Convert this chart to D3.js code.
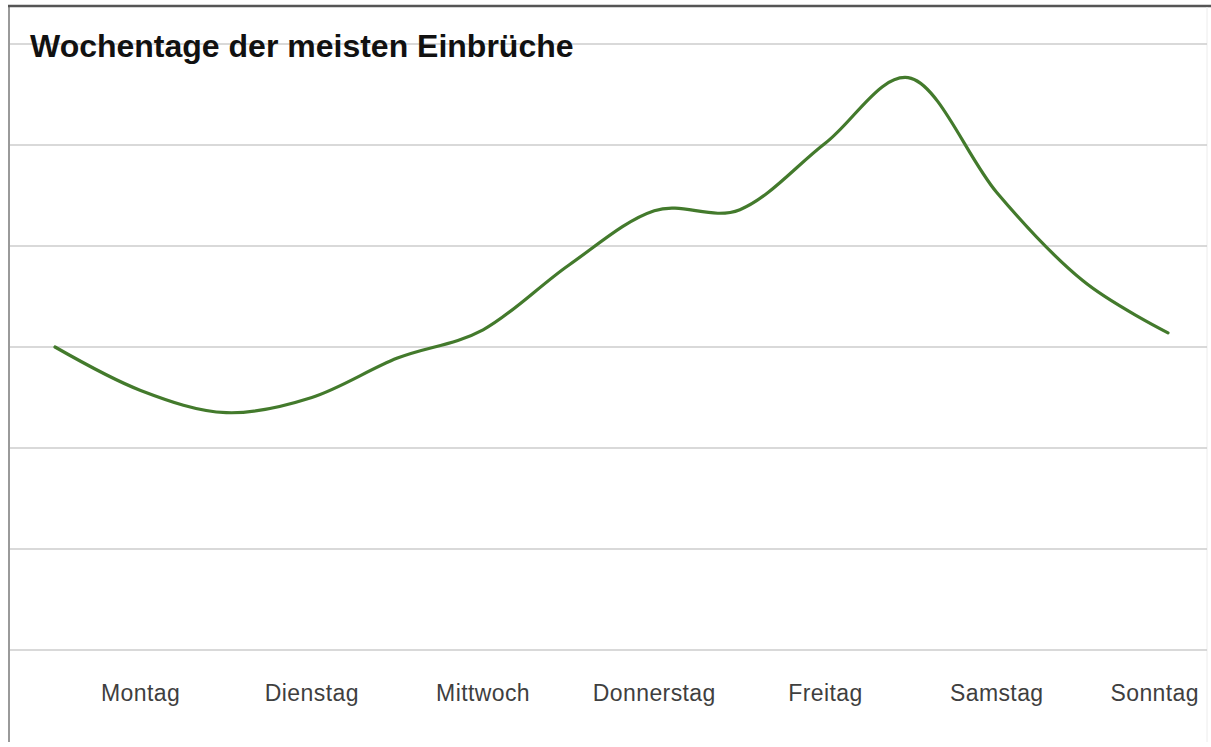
<!DOCTYPE html>
<html>
<head>
<meta charset="utf-8">
<script src="https://cdn.jsdelivr.net/npm/d3@7"></script>
<style>
  body { margin: 0; background: #fff; }
  svg { display: block; }
</style>
</head>
<body>
<svg></svg>
<script>
const size = { w: 1211, h: 747 };
const svg = d3.select("svg").attr("width", size.w).attr("height", size.h);

// weekdays (labels sit on every second point)
const days = ["Montag", "Dienstag", "Mittwoch", "Donnerstag", "Freitag", "Samstag", "Sonntag"];
// arbitrary units (one grid step = 1)
const values = [3.00, 2.57, 2.35, 2.50, 2.89, 3.17, 3.81, 4.35, 4.36, 5.02, 5.66, 4.53, 3.66, 3.14];
const gridTicks = [0, 1, 2, 3, 4, 5, 6];
const title = "Wochentage der meisten Einbrüche";

const x = d3.scaleLinear().domain([0, values.length - 1]).range([55, 1168]);
const y = d3.scaleLinear().domain([0, 6]).range([650, 44]);

// frame
svg.append("line")
  .attr("x1", 9).attr("x2", 9).attr("y1", 5).attr("y2", 742)
  .attr("stroke", "#9a9a9a").attr("stroke-width", 2);
svg.append("line")
  .attr("x1", 8).attr("x2", size.w).attr("y1", 6).attr("y2", 6)
  .attr("stroke", "#555").attr("stroke-width", 2.5);
svg.append("line")
  .attr("x1", 1207).attr("x2", 1207).attr("y1", 7).attr("y2", 742)
  .attr("stroke", "#ececec").attr("stroke-width", 1);

// gridlines
svg.append("g").selectAll("line")
  .data(gridTicks)
  .enter()
  .append("line")
  .attr("x1", 10).attr("x2", 1207)
  .attr("y1", d => y(d)).attr("y2", d => y(d))
  .attr("stroke", "#cccccc").attr("stroke-width", 1.5);

// line
const line = d3.line()
  .x((d, i) => x(i))
  .y(d => y(d))
  .curve(d3.curveCardinal.tension(0));

svg.append("path")
  .datum(values)
  .attr("d", line)
  .attr("fill", "none")
  .attr("stroke", "#437a2c")
  .attr("stroke-width", 3.2)
  .attr("stroke-linecap", "round");

// day labels
svg.append("g").selectAll("text")
  .data(days)
  .enter()
  .append("text")
  .attr("x", (d, i) => x(2 * i + 1))
  .attr("y", 701)
  .attr("text-anchor", "middle")
  .attr("font-family", "Liberation Sans, Arial, sans-serif")
  .attr("font-size", 23)
  .attr("letter-spacing", 0.4)
  .attr("fill", "#3f3f3f")
  .text(d => d)
  .each(function () {
    // keep the last label inside the frame
    const bb = this.getBBox();
    if (bb.x + bb.width > 1199) {
      d3.select(this).attr("x", +d3.select(this).attr("x") - (bb.x + bb.width - 1199));
    }
  });

// title
svg.append("text")
  .attr("x", 30)
  .attr("y", 57)
  .attr("font-family", "Liberation Sans, Arial, sans-serif")
  .attr("font-weight", "bold")
  .attr("font-size", 32)
  .attr("fill", "#111")
  .text(title);
</script>
</body>
</html>
